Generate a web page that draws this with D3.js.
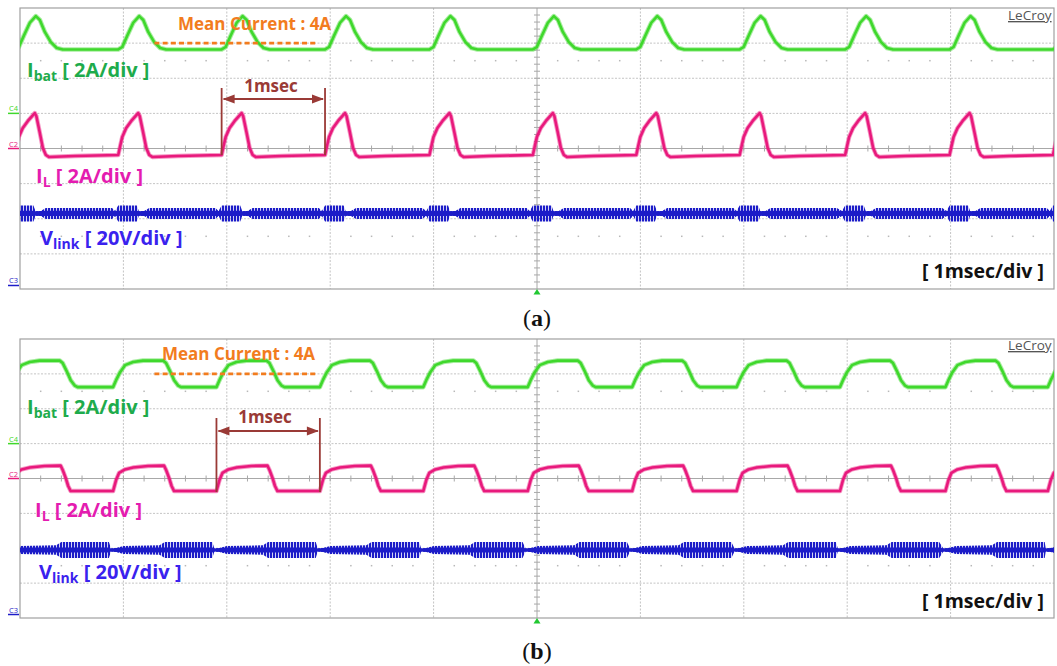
<!DOCTYPE html>
<html><head><meta charset="utf-8">
<script src="https://cdn.jsdelivr.net/npm/d3@7"></script>
<style>body{margin:0;background:#fff}svg{display:block}</style>
</head><body><svg id="c" width="1057" height="666"></svg>
<script>
// ---------- DATA ----------
const timeDivs = [0,1,2,3,4,5,6,7,8,9,10];          // ms (1 ms/div)
const vertDivs = [-4,-3,-2,-1,0,1,2,3,4];            // divisions
const channelNames = ["ibat","il","vlink"];
const channelPerDiv = [2, 2, 20];                    // A/div, A/div, V/div
const channelGround = [1, 0, -3.9];                  // ground marker position (div)

// Panel (a)
const cycleStartsA = [-0.05,0.95,1.95,2.95,3.96,4.96,5.96,6.96,7.98,8.99,9.99];
const ibatShapeA = [[0,3.64],[0.039,3.78],[0.087,4.42],[0.145,5.16],[0.203,5.54],[0.242,5.32],[0.29,4.64],[0.348,4.06],[0.406,3.72],[0.464,3.64]];
const ilShapeA = [[0,-0.37],[0.019,0.14],[0.039,0.66],[0.077,1.17],[0.126,1.57],[0.193,2.02],[0.208,1.85],[0.242,0.88],[0.271,0.03],[0.3,-0.37],[0.329,-0.48],[0.58,-0.43]];
const vlinkLevelA = 41.0;
const vlinkEnvA = [[-0.03,1.4],[0.0,4.6],[0.18,4.6],[0.2,1.3],[0.25,1.4],[0.3,3.1],[0.94,3.1]];

// Panel (b)
const cycleStartsB = [-0.1,0.9,1.9,2.9,3.9,4.91,5.92,6.93,7.93,8.95,9.94];
const ibatShapeB = [[0,3.24],[0.029,3.64],[0.068,4.10],[0.116,4.50],[0.193,4.68],[0.29,4.76],[0.484,4.76],[0.513,4.62],[0.551,4.16],[0.59,3.64],[0.629,3.33],[0.658,3.24]];
const ilShapeB = [[0,-0.72],[0.029,-0.09],[0.058,0.32],[0.116,0.52],[0.193,0.63],[0.338,0.72],[0.493,0.74],[0.513,0.49],[0.542,0.03],[0.566,-0.43],[0.59,-0.72]];
const vlinkLevelB = 37.0;
const vlinkEnvB = [[-0.02,0.9],[0.03,1.1],[0.1,2.3],[0.45,2.7],[0.5,4.6],[0.96,4.6]];

const meanCurrent = 4;          // A
const meanLineSpan = [1.3, 2.87]; // ms
const captions = ["a","b"];

// ---------- STYLE / LAYOUT ----------
const W = 1057, H = 666;
const L = 20, R = 1054;
const panels = [
  {top:8, bottom:289, starts:cycleStartsA, ibat:ibatShapeA, il:ilShapeA, vlev:vlinkLevelA, venv:vlinkEnvA,
   lab:{ibat:[27,77], il:[36,183], vlink:[40,245], mean:[178,30], msec:[271,92], arrowY:99, arrowTop:88, arrowBot:155, div:[1044,278], lecroy:[1008,20], cap:[537,326]}},
  {top:339, bottom:618, starts:cycleStartsB, ibat:ibatShapeB, il:ilShapeB, vlev:vlinkLevelB, venv:vlinkEnvB,
   lab:{ibat:[27,414], il:[35,517], vlink:[39,579], mean:[162,360], msec:[265,423], arrowY:431, arrowTop:418, arrowBot:492, div:[1044,608], lecroy:[1008,350], cap:[537,659]}}
];
const colors = {green:"#3fd82c", greenText:"#1eab4c", pink:"#e8197c", pinkText:"#e41cb0",
  blue:"#1c1cc8", blueText:"#3a22ee", orange:"#f27c1e", brown:"#9a3a36", grid:"#c4c4c4"};
const FONT = "'Open Sans', 'Noto Sans', sans-serif";

const svg = d3.select("#c");
const defs = svg.append("defs");
defs.append("pattern").attr("id","stripes").attr("width",3).attr("height",40)
  .attr("patternUnits","userSpaceOnUse")
  .append("rect").attr("width",2.2).attr("height",40).attr("fill",colors.blue);

const x = d3.scaleLinear().domain([0,10]).range([L,R]);

function expand(starts, shape){ return starts.flatMap(s => shape.map(([t,v]) => [s+t, v])); }

panels.forEach((p, pi) => {
  const y = d3.scaleLinear().domain([-4,4]).range([p.bottom, p.top]);
  const toDiv = (ci, v) => v / channelPerDiv[ci] + channelGround[ci];
  const g = svg.append("g");
  const cid = "clip"+pi;
  defs.append("clipPath").attr("id",cid).append("rect")
    .attr("x",L).attr("y",p.top).attr("width",R-L).attr("height",p.bottom-p.top);

  // grid
  g.selectAll(".vg").data(timeDivs.filter(d=>d>0&&d<10&&d!==5)).join("line")
    .attr("x1",d=>x(d)).attr("x2",d=>x(d)).attr("y1",p.top).attr("y2",p.bottom)
    .attr("stroke",colors.grid).attr("stroke-dasharray","2,1.5");
  g.selectAll(".hg").data(vertDivs.filter(d=>d>-4&&d<4&&d!==0)).join("line")
    .attr("y1",d=>y(d)).attr("y2",d=>y(d)).attr("x1",L).attr("x2",R)
    .attr("stroke",colors.grid).attr("stroke-dasharray","2,1.5");
  // dotted rows at +-2.5 div
  const dotsX = d3.range(0.2,10,0.2).filter(t => Math.abs(t-Math.round(t))>0.05);
  [2.5,-2.5].forEach(r => {
    g.selectAll(null).data(dotsX).join("rect")
      .attr("x",d=>x(d)-0.75).attr("y",y(r)-0.75).attr("width",1.5).attr("height",1.5).attr("fill","#b8b8b8");
  });
  // center axes with ticks
  g.append("line").attr("x1",L).attr("x2",R).attr("y1",y(0)).attr("y2",y(0)).attr("stroke","#a8a8a8");
  g.append("line").attr("x1",x(5)).attr("x2",x(5)).attr("y1",p.top).attr("y2",p.bottom).attr("stroke","#a8a8a8");
  g.selectAll(null).data(d3.range(0.2,10,0.2)).join("line")
    .attr("x1",d=>x(d)).attr("x2",d=>x(d)).attr("y1",y(0)-3).attr("y2",y(0)+3).attr("stroke","#a8a8a8");
  g.selectAll(null).data(d3.range(-3.8,4,0.2)).join("line")
    .attr("y1",d=>y(d)).attr("y2",d=>y(d)).attr("x1",x(5)-3).attr("x2",x(5)+3).attr("stroke","#a8a8a8");
  // frame
  g.append("rect").attr("x",L).attr("y",p.top).attr("width",R-L).attr("height",p.bottom-p.top)
    .attr("fill","none").attr("stroke","#a0a0a0").attr("stroke-width",1.2);

  const tr = g.append("g").attr("clip-path",`url(#${cid})`);
  const line = ci => d3.line().x(d=>x(d[0])).y(d=>y(toDiv(ci,d[1])));

  // Vlink band
  const env = expand(p.starts, p.venv);
  tr.append("path").datum(env)
    .attr("d", d3.area().x(d=>x(d[0])).y0(d=>y(toDiv(2,p.vlev-d[1]))).y1(d=>y(toDiv(2,p.vlev+d[1]))))
    .attr("fill","url(#stripes)");
  tr.append("path").datum(env)
    .attr("d", d3.area().x(d=>x(d[0])).y0(d=>y(toDiv(2,p.vlev-Math.min(d[1],1.5)))).y1(d=>y(toDiv(2,p.vlev+Math.min(d[1],1.5)))))
    .attr("fill",colors.blue);

  // IL
  const il = expand(p.starts, p.il);
  tr.append("path").datum(il).attr("d",line(1)).attr("fill","none").attr("stroke",colors.pink)
    .attr("stroke-width",4.4).attr("stroke-opacity",0.45).attr("stroke-linejoin","round");
  tr.append("path").datum(il).attr("d",line(1)).attr("fill","none").attr("stroke",colors.pink)
    .attr("stroke-width",2.6).attr("stroke-linejoin","round");
  // Ibat
  const ib = expand(p.starts, p.ibat);
  tr.append("path").datum(ib).attr("d",line(0)).attr("fill","none").attr("stroke",colors.green)
    .attr("stroke-width",4.6).attr("stroke-opacity",0.45).attr("stroke-linejoin","round");
  tr.append("path").datum(ib).attr("d",line(0)).attr("fill","none").attr("stroke",colors.green)
    .attr("stroke-width",2.6).attr("stroke-linejoin","round");

  // channel markers
  const mk = [["C4",colors.green,0],["C2",colors.pink,1],["C3",colors.blue,2]];
  mk.forEach(([t,c,ci]) => {
    const yy = Math.min(y(channelGround[ci]), p.bottom);
    g.append("text").attr("x",9).attr("y",yy-2).text(t).attr("fill",c)
      .attr("font-family",FONT).attr("font-size",7.5);
    g.append("line").attr("x1",8).attr("x2",19).attr("y1",yy).attr("y2",yy).attr("stroke",c).attr("stroke-width",1.5);
  });
  // trigger marker
  g.append("path").attr("d",`M${x(5)-3.5},${p.bottom+5.5}L${x(5)+3.5},${p.bottom+5.5}L${x(5)},${p.bottom}Z`).attr("fill","#22c832");

  // mean current line
  g.append("line").attr("x1",x(meanLineSpan[0])).attr("x2",x(meanLineSpan[1]))
    .attr("y1",y(toDiv(0,meanCurrent))).attr("y2",y(toDiv(0,meanCurrent)))
    .attr("stroke",colors.orange).attr("stroke-width",2.6).attr("stroke-dasharray","5,3.2");
  g.append("text").attr("x",p.lab.mean[0]).attr("y",p.lab.mean[1]).text("Mean Current : 4A")
    .attr("fill",colors.orange).attr("font-family",FONT).attr("font-weight",700).attr("font-size",17);

  // 1 msec dimension
  const xa = x(p.starts[2]), xb = x(p.starts[3]);
  [xa,xb].forEach(xx => g.append("line").attr("x1",xx).attr("x2",xx).attr("y1",p.lab.arrowTop).attr("y2",p.lab.arrowBot)
    .attr("stroke",colors.brown).attr("stroke-width",1.8));
  g.append("line").attr("x1",xa+2).attr("x2",xb-2).attr("y1",p.lab.arrowY).attr("y2",p.lab.arrowY)
    .attr("stroke",colors.brown).attr("stroke-width",1.8);
  const ay = p.lab.arrowY;
  g.append("path").attr("d",`M${xa+1},${ay}L${xa+13},${ay-4.5}L${xa+13},${ay+4.5}Z`).attr("fill",colors.brown);
  g.append("path").attr("d",`M${xb-1},${ay}L${xb-13},${ay-4.5}L${xb-13},${ay+4.5}Z`).attr("fill",colors.brown);
  g.append("text").attr("x",p.lab.msec[0]).attr("y",p.lab.msec[1]).attr("text-anchor","middle").text("1msec")
    .attr("fill",colors.brown).attr("font-family",FONT).attr("font-weight",700).attr("font-size",17);

  // channel labels
  function chanLabel(pos, main, sub, rest, color){
    const t = g.append("text").attr("x",pos[0]).attr("y",pos[1]).attr("fill",color)
      .attr("font-family",FONT).attr("font-weight",700).attr("font-size",20);
    t.append("tspan").text(main);
    t.append("tspan").text(sub).attr("font-size",14).attr("dy",4);
    t.append("tspan").text(rest).attr("dy",-4);
  }
  chanLabel(p.lab.ibat, "I", "bat", " [ 2A/div ]", colors.greenText);
  chanLabel(p.lab.il, "I", "L", " [ 2A/div ]", colors.pinkText);
  chanLabel(p.lab.vlink, "V", "link", " [ 20V/div ]", colors.blueText);

  g.append("text").attr("x",p.lab.div[0]).attr("y",p.lab.div[1]).attr("text-anchor","end").text("[ 1msec/div ]")
    .attr("fill","#111").attr("font-family",FONT).attr("font-weight",700).attr("font-size",19.5);
  g.append("text").attr("x",p.lab.lecroy[0]).attr("y",p.lab.lecroy[1]).text("LeCroy")
    .attr("fill","#555").attr("font-family",FONT).attr("font-size",13.5).attr("text-decoration","underline");

  // caption
  const cap = g.append("text").attr("x",p.lab.cap[0]).attr("y",p.lab.cap[1]).attr("text-anchor","middle")
    .attr("font-family","'Liberation Serif', 'DejaVu Serif', serif").attr("font-size",24).attr("fill","#111");
  cap.append("tspan").text("(");
  cap.append("tspan").text(captions[pi]).attr("font-weight",700);
  cap.append("tspan").text(")");
});
</script></body></html>
